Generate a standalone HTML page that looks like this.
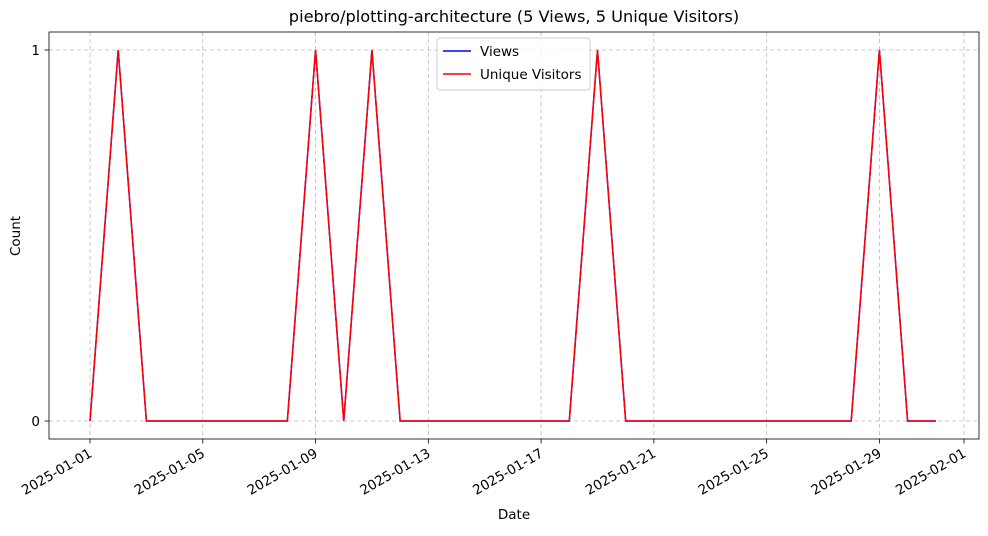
<!DOCTYPE html>
<html><head><meta charset="utf-8"><style>
body{margin:0;background:#fff;}
svg{font-family:"DejaVu Sans","Liberation Sans",sans-serif;}
</style></head><body>
<svg id="chart" width="988" height="531" viewBox="0 0 988 531">
<rect x="0" y="0" width="988" height="531" fill="#fff"/>
<text x="514" y="22" font-size="16.2" text-anchor="middle">piebro/plotting-architecture (5 Views, 5 Unique Visitors)</text>
<g id="grid"></g>
<g id="series"></g>
<rect x="49" y="32" width="930" height="407" fill="none" stroke="#000" stroke-width="0.8"/>
<g id="axes"></g>
<text x="514" y="519" font-size="13.5" text-anchor="middle">Date</text>
<text x="20" y="236" font-size="13.5" text-anchor="middle" transform="rotate(-90 20 236)">Count</text>
<g>
<rect x="437" y="38" width="153" height="52" fill="#fff" fill-opacity="0.8" stroke="#ccc" rx="3"/>
<line x1="443" y1="51" x2="471" y2="51" stroke="#0000ff" stroke-width="1.5"/>
<text x="480" y="56" font-size="13.5">Views</text>
<line x1="443" y1="74" x2="471" y2="74" stroke="#ff0000" stroke-width="1.5"/>
<text x="480" y="79" font-size="13.5">Unique Visitors</text>
</g>
</svg>
<script>
const days = [1,2,3,4,5,6,7,8,9,10,11,12,13,14,15,16,17,18,19,20,21,22,23,24,25,26,27,28,29,30,31];
const views = [0,1,0,0,0,0,0,0,1,0,1,0,0,0,0,0,0,0,1,0,0,0,0,0,0,0,0,0,1,0,0];
const visitors = [0,1,0,0,0,0,0,0,1,0,1,0,0,0,0,0,0,0,1,0,0,0,0,0,0,0,0,0,1,0,0];
const xTickDays = [1,5,9,13,17,21,25,29,32];
const xTickLabels = ["2025-01-01","2025-01-05","2025-01-09","2025-01-13","2025-01-17","2025-01-21","2025-01-25","2025-01-29","2025-02-01"];
const yTicks = [0,1];
const NS="http://www.w3.org/2000/svg";
const xs = d => 90 + (d-1)*(964-90)/31;
const ys = v => 421 - v*(421-50);
const grid=document.getElementById('grid'), axes=document.getElementById('axes'), series=document.getElementById('series');
function mk(tag,attrs,parent){const e=document.createElementNS(NS,tag);for(const k in attrs)e.setAttribute(k,attrs[k]);parent.appendChild(e);return e;}
xTickDays.forEach((d,i)=>{
  const x=xs(d);
  const g=mk('line',{x1:x,x2:x,y1:32,y2:439,stroke:'#bbb','stroke-dasharray':'4,3','stroke-width':0.8},grid);
  
  
  const t=mk('line',{x1:x,x2:x,y1:439,y2:443.5,stroke:'#000','stroke-width':0.8},axes);
  
  
  const l=mk('text',{x:x+3,y:456,'font-size':13.5,'text-anchor':'end',transform:`rotate(-30 ${x+3} 456)`},axes);
  l.textContent=xTickLabels[i];
  
  
});
yTicks.forEach(v=>{
  const y=ys(v);
  const g=mk('line',{x1:49,x2:979,y1:y,y2:y,stroke:'#bbb','stroke-dasharray':'4,3','stroke-width':0.8},grid);
  
  
  const t=mk('line',{x1:44.5,x2:49,y1:y,y2:y,stroke:'#000','stroke-width':0.8},axes);
  
  
  const l=mk('text',{x:40,y:y+5,'font-size':13.5,'text-anchor':'end'},axes);
  l.textContent=v;
  
  
});
function line(vals,color,name){
  const p=mk('polyline',{points:days.map((d,i)=>xs(d)+','+ys(vals[i])).join(' '),fill:'none',stroke:color,'stroke-width':1.5},series);
  
  
}
line(views,'#0000ff','views-line');
line(visitors,'#ff0000','unique-visitors-line');
</script>
</body></html>
